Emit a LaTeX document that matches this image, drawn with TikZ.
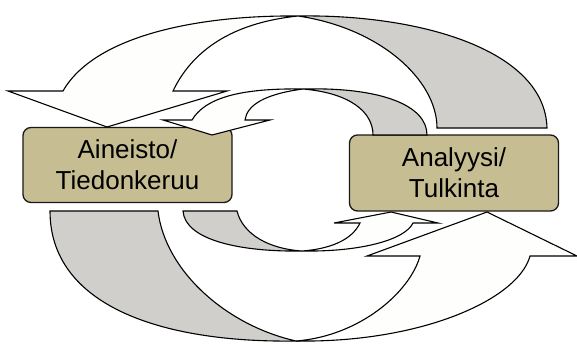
\documentclass[tikz,border=0pt]{standalone}
\usepackage{color}
\usepackage{fontspec}
\setmainfont{Liberation Sans}
\usepackage{tikz}
\usetikzlibrary{shapes}

\definecolor{khaki}{RGB}{198,190,146}
\definecolor{backgray}{RGB}{208,207,203}
\definecolor{frontwhite}{RGB}{254,254,252}

\tikzset{
  box/.style={draw=black!90, line width=1.3pt, fill=khaki, rounded corners=8pt,
    minimum width=209pt, minimum height=75pt, align=center,
    font=\fontsize{26}{31}\selectfont},
  front/.style={draw=black, line width=1.1pt, fill=frontwhite, line join=miter},
  back/.style={draw=black, line width=1.1pt, fill=backgray}
}

\begin{document}
\begin{tikzpicture}[x=1pt, y=-1pt]
\useasboundingbox (0, 0) rectangle (577, 345);

\node[box] (aineisto) at (127.5, 165) {Aineisto/\\Tiedonkeruu};
\node[box, minimum height=76pt] (analyysi) at (454, 173) {Analyysi/\\Tulkinta};

\draw[back] (298, 16) .. controls (420, 14) and (545, 50) .. (547, 128)
-- (437, 128) .. controls (437, 80) and (380, 28) .. (298, 16) -- cycle;
\draw[front] (63, 91) .. controls (95, 35) and (200, 15) .. (298, 16)
.. controls (240, 22) and (195, 45) .. (173, 91)
-- (227, 91) -- (107, 127) -- (8, 91) -- cycle;

\draw[back] (303, 89) .. controls (380, 87) and (427, 105) .. (427, 135)
-- (373, 135) .. controls (373, 112) and (350, 93) .. (303, 89) -- cycle;
\draw[front] (192, 120) .. controls (205, 98) and (240, 88) .. (303, 89)
.. controls (265, 94) and (247, 105) .. (245, 120)
-- (270, 120) -- (212, 135) -- (163, 120) -- cycle;

\draw[back] (50, 211) .. controls (50, 305) and (160, 343) .. (296, 341)
.. controls (225, 325) and (165, 270) .. (158, 211) -- cycle;
\draw[front] (296, 341) .. controls (420, 343) and (518, 300) .. (530, 256)
-- (577, 256) -- (487, 212) -- (367, 256) -- (420, 256)
.. controls (410, 292) and (360, 336) .. (296, 341) -- cycle;

\draw[back] (183, 211) .. controls (185, 240) and (240, 252) .. (302, 251)
.. controls (270, 249) and (243, 235) .. (237, 211) -- cycle;
\draw[front] (302, 251) .. controls (360, 252) and (405, 240) .. (413, 223)
-- (438, 223) -- (391, 212) -- (334, 223) -- (360, 223)
.. controls (352, 240) and (330, 249) .. (302, 251) -- cycle;
\end{tikzpicture}
\end{document}
